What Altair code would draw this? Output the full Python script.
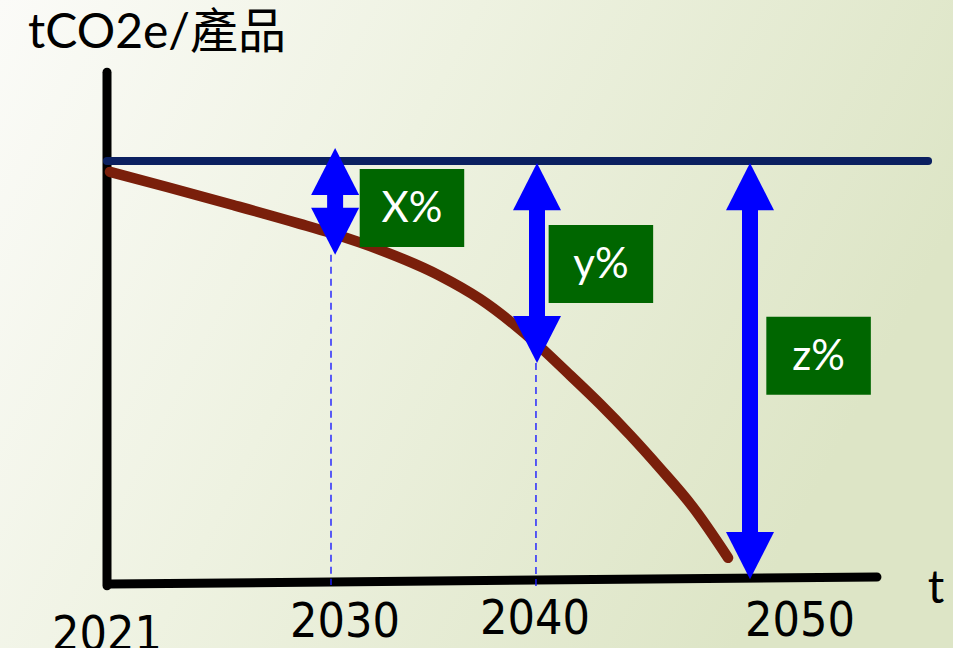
import altair as alt
import pandas as pd

# ---- data (years on x, emission intensity index on y; 100 = base level) ----
curve_years = [2021.12, 2023.41, 2026.06, 2028.75, 2030.0, 2032.38, 2035.29, 2037.23,
               2040.0, 2041.55, 2042.96, 2044.37, 2045.77, 2047.32, 2048.97]
curve_values = [97.4, 93.8, 89.5, 85.0, 82.8, 78.8, 72.6, 67.1,
                56.3, 48.9, 42.0, 34.6, 26.7, 17.4, 5.3]

baseline_years = [2021.0, 2058.36]
baseline_values = [100.0, 100.0]

xaxis_years = [2021.12, 2055.96]
xaxis_values = [-0.95, 0.72]
yaxis_years = [2021.0, 2021.0]
yaxis_values = [-1.4, 121.2]

guide_years = [2030.0, 2039.95]
guide_top = [77.6, 51.8]
guide_bottom = [-1.2, -2.4]

arrow_years = [2030.2, 2040.0, 2050.0]
arrow_top = [103.1, 99.5, 99.5]
arrow_bottom = [77.6, 51.8, 0.2]

label_text = ["X%", "y%", "z%"]
label_years = [2033.93, 2043.0, 2053.22]
label_values = [88.8, 75.4, 53.5]

tick_labels = ["2021", "2030", "2040", "2050"]
tick_years = [2021.0, 2030.68, 2039.9, 2052.35]
tick_values = [-16.6, -13.6, -12.8, -13.4]

y_title = "tCO2e/產品"
y_title_pos = (2017.83, 127.0)
x_title = "t"
x_title_pos = (2058.73, -5.5)

HEAD = 11.2  # arrow head length in value units

# ---- scales ----
xs = alt.Scale(domain=[2021, 2030, 2040, 2050], range=[107, 331, 537, 750])
ys = alt.Scale(domain=[0, 100], range=[580, 161])

def X(f="x"):
    return alt.X(f, type="quantitative", scale=xs, axis=None)

def Y(f="y"):
    return alt.Y(f, type="quantitative", scale=ys, axis=None)

FONT = "Lato, 'Noto Sans CJK TC', sans-serif"
NUMFONT = "'Liberation Sans Narrow', 'DejaVu Sans Condensed', 'Roboto Condensed', Roboto, sans-serif"

# ---- background ----
bg = alt.Chart(pd.DataFrame({"a": [0]})).mark_rect(
    color=alt.LinearGradient(
        gradient="linear",
        stops=[alt.GradientStop(color="#fbfbf8", offset=0),
               alt.GradientStop(color="#eef2e1", offset=0.45),
               alt.GradientStop(color="#dde5c6", offset=1)],
        x1=0, x2=1, y1=0, y2=0.35),
).encode(x=alt.value(0), x2=alt.value(953), y=alt.value(0), y2=alt.value(648))

# ---- axes lines ----
xaxis = alt.Chart(pd.DataFrame({"x": xaxis_years, "y": xaxis_values})).mark_line(
    color="black", strokeWidth=9, strokeCap="round").encode(x=X(), y=Y())
yaxis = alt.Chart(pd.DataFrame({"x": yaxis_years[:1], "y": [yaxis_values[0]], "y2": [yaxis_values[1]]})).mark_rule(
    color="black", strokeWidth=9, strokeCap="round").encode(x=X(), y=Y(), y2="y2")

# ---- dashed guides ----
guides = alt.Chart(pd.DataFrame({"x": guide_years, "y": guide_top, "y2": guide_bottom})).mark_rule(
    color="#1a1aff", strokeWidth=1.4, strokeDash=[7, 5]).encode(x=X(), y=Y(), y2="y2")

# ---- baseline ----
baseline = alt.Chart(pd.DataFrame({"x": baseline_years, "y": baseline_values})).mark_line(
    color="#0b2060", strokeWidth=8, strokeCap="round").encode(x=X(), y=Y())

# ---- curve ----
curve = alt.Chart(pd.DataFrame({"x": curve_years, "y": curve_values})).mark_line(
    color="#7a1f0b", strokeWidth=10.5, strokeCap="round", strokeJoin="round",
    interpolate="monotone").encode(x=X(), y=Y())

# ---- arrows ----
adf = pd.DataFrame({"x": arrow_years, "top": arrow_top, "bottom": arrow_bottom})
adf["s_top"] = adf["top"] - HEAD + 0.5
adf["s_bot"] = adf["bottom"] + HEAD - 0.5
shafts = alt.Chart(adf).mark_rule(color="#0000ff", strokeWidth=16).encode(
    x=X(), y=Y("s_top"), y2="s_bot")
heads_up = alt.Chart(adf).mark_point(
    shape="M0,0L1,1.96L-1,1.96Z", size=2304, filled=True, color="#0000ff",
    opacity=1, strokeWidth=0).encode(x=X(), y=Y("top"))
heads_dn = alt.Chart(adf).mark_point(
    shape="M0,0L1,-1.96L-1,-1.96Z", size=2304, filled=True, color="#0000ff",
    opacity=1, strokeWidth=0).encode(x=X(), y=Y("bottom"))

# ---- labels in boxes ----
ldf = pd.DataFrame({"x": label_years, "y": label_values, "t": label_text})
boxes = alt.Chart(ldf).mark_point(
    shape="M-1.34,-1L1.34,-1L1.34,1L-1.34,1Z", size=6084, filled=True,
    color="#006600", opacity=1, strokeWidth=0).encode(x=X(), y=Y())
box_text = alt.Chart(ldf).mark_text(
    color="white", fontSize=42, font=FONT, align="center", baseline="middle", dy=1
).encode(x=X(), y=Y(), text="t:N")

# ---- tick labels ----
tdf = pd.DataFrame({"x": tick_years, "y": tick_values, "t": tick_labels})
ticks = alt.Chart(tdf).mark_text(
    color="black", fontSize=48, font=NUMFONT, align="center", baseline="alphabetic"
).encode(x=X(), y=Y(), text="t:N")

# ---- axis titles ----
ytitle = alt.Chart(pd.DataFrame({"x": [y_title_pos[0]], "y": [y_title_pos[1]], "t": [y_title]})).mark_text(
    color="black", fontSize=48, font=FONT, align="left", baseline="alphabetic"
).encode(x=X(), y=Y(), text="t:N")
xtitle = alt.Chart(pd.DataFrame({"x": [x_title_pos[0]], "y": [x_title_pos[1]], "t": [x_title]})).mark_text(
    color="black", fontSize=46, font=FONT, align="center", baseline="alphabetic"
).encode(x=X(), y=Y(), text="t:N")

chart = alt.layer(
    bg, xaxis, yaxis, guides, baseline, curve, shafts, heads_up, heads_dn,
    boxes, box_text, ticks, ytitle, xtitle
).properties(
    width=953, height=648, padding=0,
    autosize=alt.AutoSizeParams(type="none"),
    background="#fbfbf8",
).configure_view(stroke=None)

chart.save("out.html", embed_options={"renderer": "svg", "actions": False})
